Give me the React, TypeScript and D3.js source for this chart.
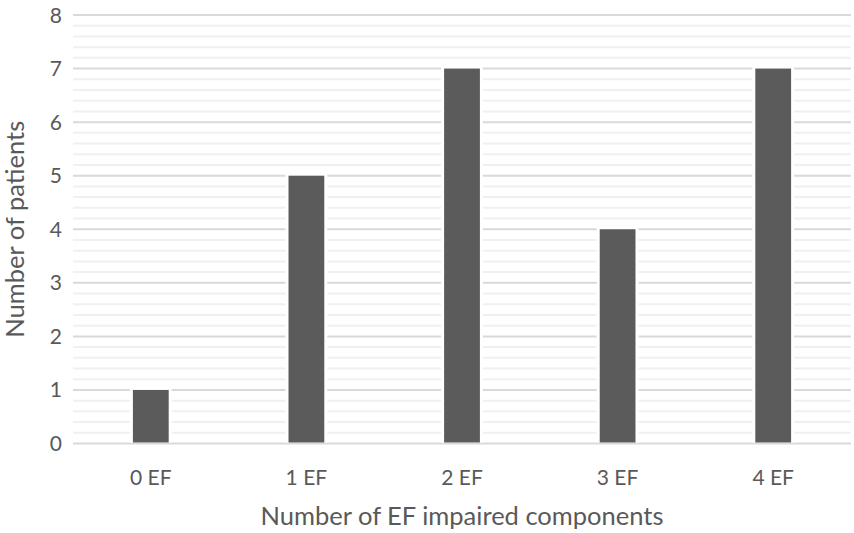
import { scaleBand, scaleLinear, range } from "d3";

const categories = ["0 EF", "1 EF", "2 EF", "3 EF", "4 EF"];
const patients = [1, 5, 7, 4, 7];
const yTicks = [0, 1, 2, 3, 4, 5, 6, 7, 8];
const xTitle = "Number of EF impaired components";
const yTitle = "Number of patients";

export default function App() {
  const width = 854;
  const height = 533;
  const plot = { left: 73, right: 851, top: 15, bottom: 443.5 };
  const font = "Lato, 'Open Sans', sans-serif";
  const textColor = "#595959";

  const x = scaleBand<string>()
    .domain(categories)
    .range([plot.left, plot.right])
    .paddingInner(0.77)
    .paddingOuter(0.385);
  const y = scaleLinear().domain([0, 8]).range([plot.bottom, plot.top]);
  const minor = range(0, 8, 0.2).filter((v) => Math.abs(v - Math.round(v)) > 1e-6);

  return (
    <div style={{ position: "absolute", left: 0, top: 0 }}>
      <svg width={width} height={height} style={{ display: "block", background: "#fff" }}>
        {minor.map((v) => (
          <line key={`m${v}`} x1={plot.left} x2={plot.right} y1={y(v)} y2={y(v)} stroke="#f0f0f0" strokeWidth={2} />
        ))}
        {yTicks.map((v) => (
          <line key={`g${v}`} x1={plot.left} x2={plot.right} y1={y(v)} y2={y(v)} stroke="#d9d9d9" strokeWidth={2} />
        ))}
        {categories.map((c, i) => {
          const x0 = x(c) ?? 0;
          const bw = x.bandwidth();
          const top = y(patients[i]);
          return (
            <g key={c}>
              <rect x={x0 - 3} y={top - 3} width={bw + 6} height={plot.bottom - top + 2} fill="#fff" />
              <rect x={x0} y={top} width={bw} height={plot.bottom - top - 1} fill="#5b5b5b" />
            </g>
          );
        })}
        {yTicks.map((v) => (
          <text key={`t${v}`} x={62} y={y(v) + 7.5} textAnchor="end" fill={textColor} fontFamily={font} fontSize={21}>
            {v}
          </text>
        ))}
        {categories.map((c) => (
          <text
            key={`c${c}`}
            x={(x(c) ?? 0) + x.bandwidth() / 2}
            y={485}
            textAnchor="middle"
            fill={textColor}
            fontFamily={font}
            fontSize={21}
          >
            {c}
          </text>
        ))}
        <text x={(plot.left + plot.right) / 2} y={525} textAnchor="middle" fill={textColor} fontFamily={font} fontSize={25.5}>
          {xTitle}
        </text>
        <text
          transform={`translate(24, ${(plot.top + plot.bottom) / 2}) rotate(-90)`}
          textAnchor="middle"
          fill={textColor}
          fontFamily={font}
          fontSize={25.5}
        >
          {yTitle}
        </text>
      </svg>
    </div>
  );
}
